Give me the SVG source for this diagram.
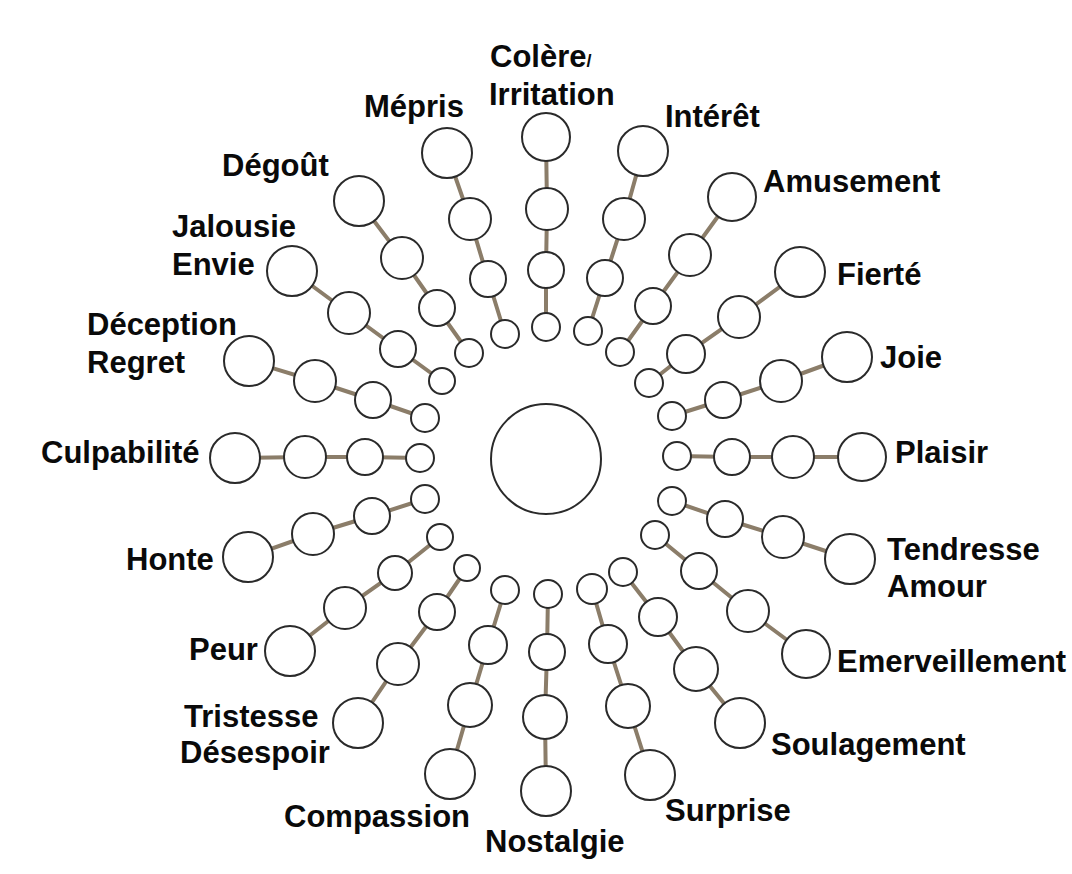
<svg xmlns="http://www.w3.org/2000/svg" width="1072" height="874" viewBox="0 0 1072 874">
<style>
.c{fill:#fff;stroke:#2a2a2a;stroke-width:2}
.k{stroke:#8b7d69;stroke-width:4;fill:none}
.t{font-family:"Liberation Sans",Arial,sans-serif;font-weight:bold;font-size:31px;fill:#0a0a0a}
</style>
<rect width="1072" height="874" fill="#fff"/>
<g id="connectors">
<polyline class="k" points="546,137 547,209 546,270 546,327"/>
<polyline class="k" points="447,153 470,219 488,279 505,334"/>
<polyline class="k" points="643,151 624,219 605,278 588,331"/>
<polyline class="k" points="732,197 690,255 653,306 620,352"/>
<polyline class="k" points="800,272 739,317 686,354 649,383"/>
<polyline class="k" points="847,357 781,381 723,400 672,416"/>
<polyline class="k" points="862,457 793,457 732,457 677,456"/>
<polyline class="k" points="850,559 783,537 725,519 672,501"/>
<polyline class="k" points="806,654 748,611 699,571 655,535"/>
<polyline class="k" points="740,723 696,669 658,617 623,572"/>
<polyline class="k" points="650,775 628,706 608,644 592,589"/>
<polyline class="k" points="546,791 545,717 547,652 548,594"/>
<polyline class="k" points="450,774 470,705 488,645 505,590"/>
<polyline class="k" points="358,723 398,664 437,612 467,568"/>
<polyline class="k" points="290,651 345,608 395,573 440,537"/>
<polyline class="k" points="248,557 313,534 372,516 425,499"/>
<polyline class="k" points="235,458 305,457 365,457 420,458"/>
<polyline class="k" points="249,361 315,381 373,400 425,418"/>
<polyline class="k" points="292,271 349,313 398,349 442,381"/>
<polyline class="k" points="359,201 402,258 437,308 469,353"/>
</g>
<g id="center"><circle class="c" cx="546" cy="459" r="55"/></g>
<g id="colere"><circle class="c" cx="546" cy="137" r="24"/><circle class="c" cx="547" cy="209" r="21"/><circle class="c" cx="546" cy="270" r="18"/><circle class="c" cx="546" cy="327" r="14"/><text class="t" x="490" y="67">Colère<tspan font-size="18">/</tspan></text><text class="t" x="489" y="105">Irritation</text></g>
<g id="mepris"><circle class="c" cx="447" cy="153" r="25"/><circle class="c" cx="470" cy="219" r="21"/><circle class="c" cx="488" cy="279" r="18"/><circle class="c" cx="505" cy="334" r="14"/><text class="t" x="364" y="117">Mépris</text></g>
<g id="interet"><circle class="c" cx="643" cy="151" r="25"/><circle class="c" cx="624" cy="219" r="21"/><circle class="c" cx="605" cy="278" r="18"/><circle class="c" cx="588" cy="331" r="14"/><text class="t" x="665" y="127">Intérêt</text></g>
<g id="amusement"><circle class="c" cx="732" cy="197" r="24"/><circle class="c" cx="690" cy="255" r="21"/><circle class="c" cx="653" cy="306" r="18"/><circle class="c" cx="620" cy="352" r="14"/><text class="t" x="763" y="192">Amusement</text></g>
<g id="fierte"><circle class="c" cx="800" cy="272" r="25"/><circle class="c" cx="739" cy="317" r="21"/><circle class="c" cx="686" cy="354" r="19"/><circle class="c" cx="649" cy="383" r="14"/><text class="t" x="837" y="285">Fierté</text></g>
<g id="joie"><circle class="c" cx="847" cy="357" r="25"/><circle class="c" cx="781" cy="381" r="21"/><circle class="c" cx="723" cy="400" r="18"/><circle class="c" cx="672" cy="416" r="14"/><text class="t" x="880" y="368">Joie</text></g>
<g id="plaisir"><circle class="c" cx="862" cy="457" r="24"/><circle class="c" cx="793" cy="457" r="21"/><circle class="c" cx="732" cy="457" r="18"/><circle class="c" cx="677" cy="456" r="14"/><text class="t" x="895" y="463">Plaisir</text></g>
<g id="tendresse"><circle class="c" cx="850" cy="559" r="25"/><circle class="c" cx="783" cy="537" r="21"/><circle class="c" cx="725" cy="519" r="18"/><circle class="c" cx="672" cy="501" r="14"/><text class="t" x="887" y="560">Tendresse</text><text class="t" x="887" y="597">Amour</text></g>
<g id="emerveillement"><circle class="c" cx="806" cy="654" r="24"/><circle class="c" cx="748" cy="611" r="21"/><circle class="c" cx="699" cy="571" r="18"/><circle class="c" cx="655" cy="535" r="14"/><text class="t" x="837" y="672">Emerveillement</text></g>
<g id="soulagement"><circle class="c" cx="740" cy="723" r="25"/><circle class="c" cx="696" cy="669" r="22"/><circle class="c" cx="658" cy="617" r="19"/><circle class="c" cx="623" cy="572" r="14"/><text class="t" x="771" y="755">Soulagement</text></g>
<g id="surprise"><circle class="c" cx="650" cy="775" r="25"/><circle class="c" cx="628" cy="706" r="22"/><circle class="c" cx="608" cy="644" r="19"/><circle class="c" cx="592" cy="589" r="15"/><text class="t" x="665" y="821">Surprise</text></g>
<g id="nostalgie"><circle class="c" cx="546" cy="791" r="25"/><circle class="c" cx="545" cy="717" r="22"/><circle class="c" cx="547" cy="652" r="18"/><circle class="c" cx="548" cy="594" r="14"/><text class="t" x="485" y="852">Nostalgie</text></g>
<g id="compassion"><circle class="c" cx="450" cy="774" r="25"/><circle class="c" cx="470" cy="705" r="22"/><circle class="c" cx="488" cy="645" r="19"/><circle class="c" cx="505" cy="590" r="14"/><text class="t" x="284" y="827">Compassion</text></g>
<g id="tristesse"><circle class="c" cx="358" cy="723" r="25"/><circle class="c" cx="398" cy="664" r="21"/><circle class="c" cx="437" cy="612" r="18"/><circle class="c" cx="467" cy="568" r="13"/><text class="t" x="184" y="727">Tristesse</text><text class="t" x="180" y="763">Désespoir</text></g>
<g id="peur"><circle class="c" cx="290" cy="651" r="25"/><circle class="c" cx="345" cy="608" r="21"/><circle class="c" cx="395" cy="573" r="17"/><circle class="c" cx="440" cy="537" r="13"/><text class="t" x="189" y="660">Peur</text></g>
<g id="honte"><circle class="c" cx="248" cy="557" r="25"/><circle class="c" cx="313" cy="534" r="21"/><circle class="c" cx="372" cy="516" r="18"/><circle class="c" cx="425" cy="499" r="14"/><text class="t" x="126" y="570">Honte</text></g>
<g id="culpabilite"><circle class="c" cx="235" cy="458" r="25"/><circle class="c" cx="305" cy="457" r="21"/><circle class="c" cx="365" cy="457" r="18"/><circle class="c" cx="420" cy="458" r="14"/><text class="t" x="41" y="463">Culpabilité</text></g>
<g id="deception"><circle class="c" cx="249" cy="361" r="25"/><circle class="c" cx="315" cy="381" r="21"/><circle class="c" cx="373" cy="400" r="18"/><circle class="c" cx="425" cy="418" r="14"/><text class="t" x="87" y="335">Déception</text><text class="t" x="87" y="373">Regret</text></g>
<g id="jalousie"><circle class="c" cx="292" cy="271" r="25"/><circle class="c" cx="349" cy="313" r="21"/><circle class="c" cx="398" cy="349" r="18"/><circle class="c" cx="442" cy="381" r="13"/><text class="t" x="172" y="237">Jalousie</text><text class="t" x="172" y="275">Envie</text></g>
<g id="degout"><circle class="c" cx="359" cy="201" r="25"/><circle class="c" cx="402" cy="258" r="21"/><circle class="c" cx="437" cy="308" r="18"/><circle class="c" cx="469" cy="353" r="14"/><text class="t" x="222" y="176">Dégoût</text></g>
</svg>
